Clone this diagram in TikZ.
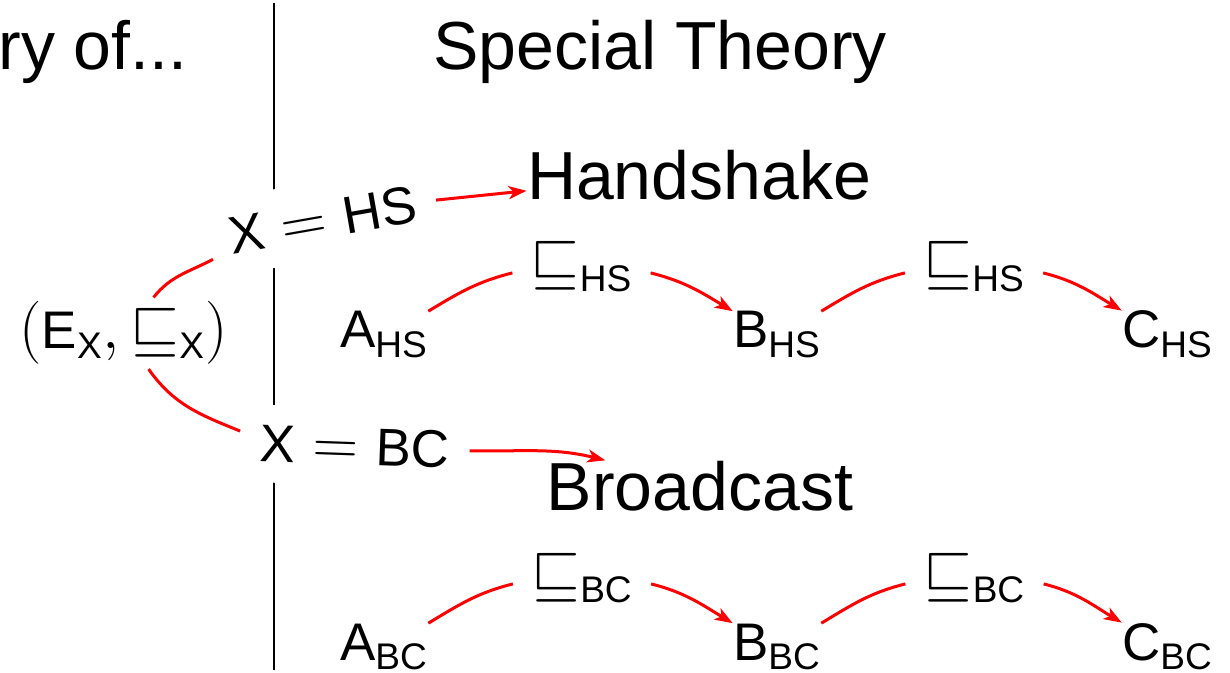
\RequirePackage{fix-cm}
\documentclass[tikz,border=0pt]{standalone}
\usepackage{amsmath}
\usepackage[no-math]{fontspec}
\setmainfont{Liberation Sans}[Scale=0.84]
\newfontfamily\titlefont{Liberation Sans}
\usetikzlibrary{arrows.meta,calc}
\begin{document}
\begin{tikzpicture}[x=0.5pt,y=-0.5pt,
  title/.style={font=\titlefont\fontsize{34}{40}\selectfont, inner sep=0pt},
  term/.style={font=\fontsize{31.5}{36}\selectfont, inner sep=0pt},
  rel/.style={font=\fontsize{31.5}{36}\selectfont, inner sep=9pt},
  choice/.style={font=\fontsize{31.5}{36}\selectfont, inner sep=10pt, fill=white},
  redline/.style={draw=red, line width=1.5pt},
  redarrow/.style={redline, -{Stealth[length=9pt,width=6.5pt,inset=2.5pt]}},
  divider/.style={draw=black, line width=1pt}]
\useasboundingbox (0,0) rectangle (1230,673);
\clip (0,0) rectangle (1230,673);
\coordinate (divtop) at (274,3);
\coordinate (divbot) at (274,670);
\draw[divider] (divtop) -- (divbot);

\node[title, anchor=base west] (gentitle) at (-2,70) {ry of...};
\node[title, anchor=base] (spectitle) at (660,70) {Special Theory};

\node[term, inner sep=2pt, anchor=base] (ex) at (123.5,349) {$(\text{E}_{\text{X}}, \sqsubseteq_{\text{X}})$};
\node[choice, rotate=10, anchor=base] (xhs) at (326,238) {$\text{X} = \text{HS}$};
\node[choice, rotate=-2, anchor=base] (xbc) at (354,465) {$\text{X} = \text{BC}$};
\node[title, anchor=base] (hs) at (699,200) {Handshake};
\node[title, anchor=base] (bc) at (700,510) {Broadcast};

\node[term, anchor=base] (ahs) at (384,348) {$\text{A}_{\text{HS}}$};
\node[term, anchor=base] (bhs) at (777,348) {$\text{B}_{\text{HS}}$};
\node[term, anchor=base] (chs) at (1167.5,348) {$\text{C}_{\text{HS}}$};
\node[rel, anchor=base] (lhs1) at (581.5,282) {$\sqsubseteq_{\text{HS}}$};
\node[rel, anchor=base] (lhs2) at (974,282) {$\sqsubseteq_{\text{HS}}$};

\node[term, anchor=base] (abc) at (384,660) {$\text{A}_{\text{BC}}$};
\node[term, anchor=base] (bbc) at (777,660) {$\text{B}_{\text{BC}}$};
\node[term, anchor=base] (cbc) at (1167.5,660) {$\text{C}_{\text{BC}}$};
\node[rel, anchor=base] (lbc1) at (582,593) {$\sqsubseteq_{\text{BC}}$};
\node[rel, anchor=base] (lbc2) at (974.5,593) {$\sqsubseteq_{\text{BC}}$};

\draw[redline] (ex.50) to[out=52,in=208] ($(xhs.west)!0.5!(xhs.south west)$);
\draw[redline] (ex.-55) to[out=-55,in=158] ($(xbc.west)!0.3!(xbc.north west)$);
\draw[redarrow] (xhs.east) -- (hs.185);
\draw[redarrow] (xbc.east) to[out=-1,in=166] (bc.165);

\draw[redline] (ahs.north east) to[out=31,in=194] (lhs1.185);
\draw[redarrow] (lhs1.-5) to[out=-14,in=149] (bhs.north west);
\draw[redline] (bhs.north east) to[out=31,in=194] (lhs2.185);
\draw[redarrow] (lhs2.-5) to[out=-14,in=149] (chs.north west);

\draw[redline] (abc.north east) to[out=31,in=194] (lbc1.185);
\draw[redarrow] (lbc1.-5) to[out=-14,in=149] (bbc.north west);
\draw[redline] (bbc.north east) to[out=31,in=194] (lbc2.185);
\draw[redarrow] (lbc2.-5) to[out=-14,in=149] (cbc.north west);
\end{tikzpicture}
\end{document}
